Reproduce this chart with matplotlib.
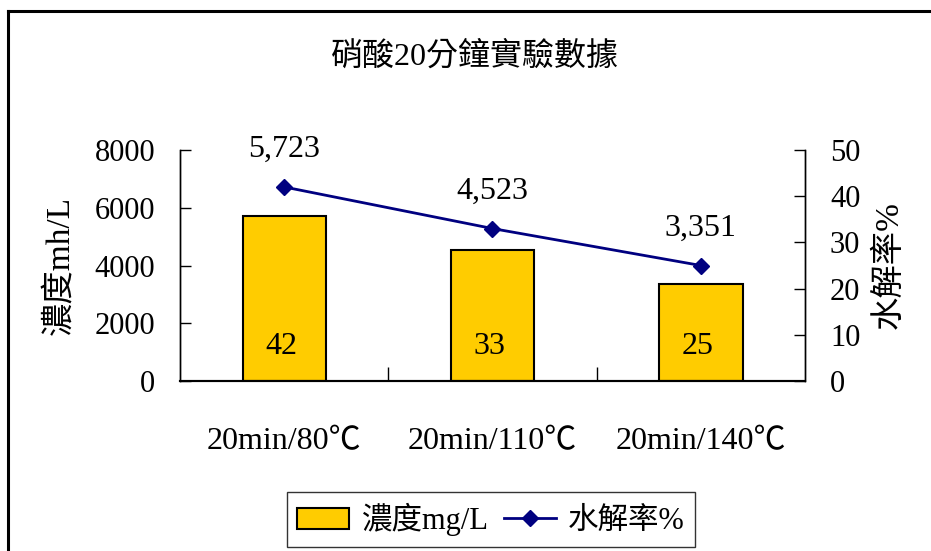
import matplotlib
matplotlib.use('Agg')
import matplotlib.pyplot as plt
from matplotlib.lines import Line2D

plt.rcParams['font.family'] = ['Liberation Serif', 'Noto Sans CJK TC', 'DejaVu Sans']

# 硝酸實驗數據
categories = ['20min/80℃', '20min/110℃', '20min/140℃']
concentration = [5723, 4523, 3351]      # 濃度 mg/L
hydrolysis = [42, 33, 25]               # 水解率 %

conc_ticks = [0, 2000, 4000, 6000, 8000]
rate_ticks = [0, 10, 20, 30, 40, 50]


def main():
    fig = plt.figure(figsize=(9.31, 5.51), dpi=100)
    ax = fig.add_axes([180 / 931, 1 - 381 / 551, 625 / 931, 231 / 551])
    ax2 = ax.twinx()

    x = list(range(len(categories)))
    bars = ax.bar(x, concentration, width=0.4, color='#FFCC00',
                  edgecolor='black', linewidth=1.5, label='濃度mg/L', zorder=2)
    line, = ax2.plot(x, hydrolysis, color='#000080', linewidth=2, marker='D',
                     markersize=8, label='水解率%', zorder=3)

    ax.set_xlim(-0.5, 2.5)
    ax.set_ylim(0, 8000)
    ax2.set_ylim(0, 50)
    ax.set_yticks(conc_ticks)
    ax2.set_yticks(rate_ticks)

    ax.set_xticks(x)
    ax.set_xticklabels(categories, fontsize=23)
    ax.tick_params(axis='x', which='major', length=0, pad=33)
    ax.set_xticks([0.5, 1.5], minor=True)
    ax.tick_params(axis='x', which='minor', direction='in', length=10, width=1)

    ax.tick_params(axis='y', direction='in', length=8, width=1, labelsize=22, pad=18)
    ax2.tick_params(axis='y', direction='in', length=8, width=1, labelsize=22, pad=18)

    for a in (ax, ax2):
        a.spines['top'].set_visible(False)
        a.spines['left'].set_linewidth(1)
        a.spines['right'].set_linewidth(1)
        a.spines['bottom'].set_linewidth(1.5)
        a.patch.set_visible(False)

    ax.set_ylabel('濃度mh/L', fontsize=24, va='center', ha='center')
    ax.yaxis.set_label_coords(-0.193, 0.5)
    ax2.set_ylabel('水解率%', fontsize=24, rotation=90, va='center', ha='center')
    ax2.yaxis.set_label_coords(1.135, 0.5)

    # 水解率數值寫在柱內, 濃度數值寫在標記上方
    for xi, rate in zip(x, hydrolysis):
        ax.annotate(str(rate), (xi, 0), xytext=(-2, 25), textcoords='offset points',
                    ha='center', va='center', fontsize=23, zorder=4)
    for xi, rate, conc in zip(x, hydrolysis, concentration):
        ax2.annotate('{:,}'.format(conc), (xi, rate), xytext=(0, 27),
                     textcoords='offset points', ha='center', va='center', fontsize=23)

    fig.text(475 / 931, 1 - 56 / 551, '硝酸20分鐘實驗數據', ha='center', va='center',
             fontsize=23)

    leg = fig.legend([bars, line], ['濃度mg/L', '水解率%'], loc='center',
                     bbox_to_anchor=(491 / 931, 1 - 519.5 / 551), ncol=2, fontsize=22,
                     frameon=True, fancybox=False, handlelength=1.7, handleheight=0.7,
                     handletextpad=0.4, columnspacing=0.5, borderpad=0.35,
                     borderaxespad=0)
    leg.get_frame().set_edgecolor('black')
    leg.get_frame().set_linewidth(1)

    # 外框 (左邊與上邊)
    fig.add_artist(Line2D([8 / 931, 8 / 931], [0, 1 - 11 / 551], transform=fig.transFigure,
                          color='black', linewidth=2.2, solid_capstyle='projecting'))
    fig.add_artist(Line2D([8 / 931, 1], [1 - 11 / 551, 1 - 11 / 551], transform=fig.transFigure,
                          color='black', linewidth=2.2, solid_capstyle='projecting'))

    fig.savefig('out.png', dpi=100)


if __name__ == "__main__":
    main()
